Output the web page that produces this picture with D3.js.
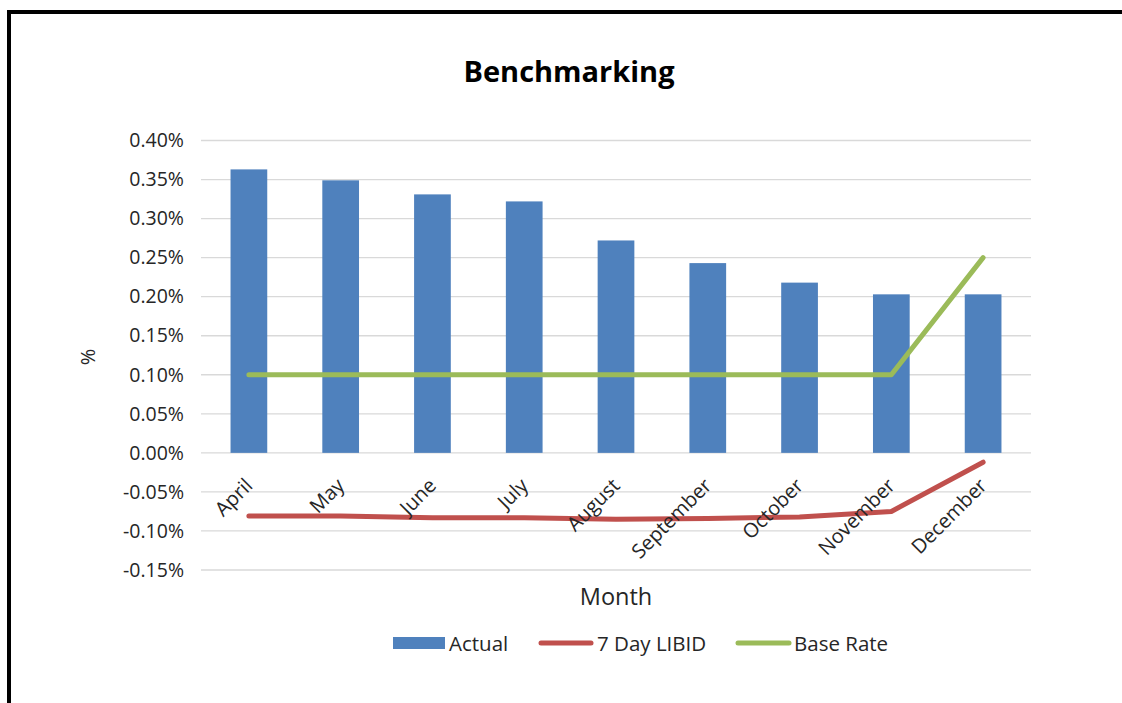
<!DOCTYPE html>
<html>
<head>
<meta charset="utf-8">
<script src="https://cdn.jsdelivr.net/npm/d3@7"></script>
<style>
  html, body { margin: 0; padding: 0; background: #fff; }
  svg { display: block; font-family: "Open Sans", "Noto Sans", sans-serif; }
</style>
</head>
<body>
<svg id="chart" width="1122" height="703"></svg>
<script>
// Monthly benchmarking data (percent)
const months = ["April", "May", "June", "July", "August", "September", "October", "November", "December"];
const actual = [0.363, 0.349, 0.331, 0.322, 0.272, 0.243, 0.218, 0.203, 0.203];
const libid = [-0.081, -0.081, -0.083, -0.083, -0.085, -0.084, -0.082, -0.075, -0.012];
const baseRate = [0.10, 0.10, 0.10, 0.10, 0.10, 0.10, 0.10, 0.10, 0.25];
const yTicks = [-0.15, -0.10, -0.05, 0.00, 0.05, 0.10, 0.15, 0.20, 0.25, 0.30, 0.35, 0.40];
const legendItems = ["Actual", "7 Day LIBID", "Base Rate"];

const colors = { actual: "#4F81BD", libid: "#C0504D", base: "#9BBB59" };
const textColor = "#262626";

const svg = d3.select("#chart");

// Outer frame (top and left edges)
svg.append("path")
  .attr("d", "M9,703 L9,12 L1122,12")
  .attr("fill", "none")
  .attr("stroke", "#000")
  .attr("stroke-width", 4);

const plot = { left: 203, right: 1029, top: 140.5, bottom: 570 };

const x = d3.scaleBand()
  .domain(months)
  .range([plot.left, plot.right])
  .paddingInner(0.6)
  .paddingOuter(0.3);

const y = d3.scaleLinear()
  .domain([-0.15, 0.40])
  .range([plot.bottom, plot.top]);

// Title
svg.append("text")
  .attr("x", 569)
  .attr("y", 82)
  .attr("text-anchor", "middle")
  .attr("font-size", 29)
  .attr("font-weight", "bold")
  .attr("fill", "#000")
  .text("Benchmarking");

// Horizontal gridlines
svg.append("g")
  .selectAll("line")
  .data(yTicks)
  .join("line")
  .attr("x1", 201)
  .attr("x2", 1031)
  .attr("y1", d => y(d))
  .attr("y2", d => y(d))
  .attr("stroke", "#D9D9D9")
  .attr("stroke-width", 1.3);

// Y axis labels (plain hyphen for negatives)
const fmt = d3.format(".2f");
const yAxis = d3.axisLeft(y)
  .tickValues(yTicks)
  .tickFormat(d => fmt(d).replace("\u2212", "-") + "%")
  .tickSize(0)
  .tickPadding(0);

const yG = svg.append("g")
  .attr("transform", `translate(184,0)`)
  .call(yAxis);
yG.select(".domain").remove();
yG.selectAll("text")
  .attr("font-size", 19.5)
  .attr("font-family", "'Open Sans', sans-serif")
  .attr("fill", textColor);

// Y axis title
svg.append("text")
  .attr("transform", "translate(95,357) rotate(-90)")
  .attr("text-anchor", "middle")
  .attr("font-size", 20)
  .attr("fill", textColor)
  .text("%");

// Bars
svg.append("g")
  .selectAll("rect")
  .data(months.map((m, i) => ({ m, v: actual[i] })))
  .join("rect")
  .attr("x", d => x(d.m))
  .attr("width", x.bandwidth())
  .attr("y", d => y(Math.max(0, d.v)))
  .attr("height", d => Math.abs(y(d.v) - y(0)))
  .attr("fill", colors.actual);

// Lines
const line = d3.line()
  .x((d, i) => x(months[i]) + x.bandwidth() / 2)
  .y(d => y(d));

svg.append("path")
  .datum(baseRate)
  .attr("d", line)
  .attr("fill", "none")
  .attr("stroke", colors.base)
  .attr("stroke-width", 5)
  .attr("stroke-linecap", "round")
  .attr("stroke-linejoin", "round");

svg.append("path")
  .datum(libid)
  .attr("d", line)
  .attr("fill", "none")
  .attr("stroke", colors.libid)
  .attr("stroke-width", 5)
  .attr("stroke-linecap", "round")
  .attr("stroke-linejoin", "round");

// X axis category labels (rotated)
const xAxis = d3.axisBottom(x).tickSize(0).tickPadding(0);
const xG = svg.append("g")
  .attr("transform", `translate(0,${y(0)})`)
  .call(xAxis);
xG.select(".domain").remove();
xG.selectAll("text")
  .attr("font-size", 20)
  .attr("font-family", "'Open Sans', sans-serif")
  .attr("fill", textColor)
  .attr("text-anchor", "end")
  .attr("dy", 0)
  .attr("transform", "translate(5,34) rotate(-45)");

// X axis title
svg.append("text")
  .attr("x", (plot.left + plot.right) / 2)
  .attr("y", 605)
  .attr("text-anchor", "middle")
  .attr("font-size", 23.5)
  .attr("fill", textColor)
  .text("Month");

// Legend
const legend = svg.append("g").attr("font-size", 20.5).attr("fill", textColor);
const legendX = [393, 539, 736];
legend.append("rect")
  .attr("x", legendX[0]).attr("y", 637).attr("width", 52).attr("height", 12)
  .attr("fill", colors.actual);
legend.append("line")
  .attr("x1", legendX[1] + 2).attr("x2", legendX[1] + 52).attr("y1", 643).attr("y2", 643)
  .attr("stroke", colors.libid).attr("stroke-width", 5).attr("stroke-linecap", "round");
legend.append("line")
  .attr("x1", legendX[2] + 2).attr("x2", legendX[2] + 53).attr("y1", 643).attr("y2", 643)
  .attr("stroke", colors.base).attr("stroke-width", 5).attr("stroke-linecap", "round");
legend.selectAll("text.lbl")
  .data(legendItems)
  .join("text")
  .attr("class", "lbl")
  .attr("x", (d, i) => [449, 597, 794][i])
  .attr("y", 651)
  .text(d => d);
</script>
</body>
</html>
